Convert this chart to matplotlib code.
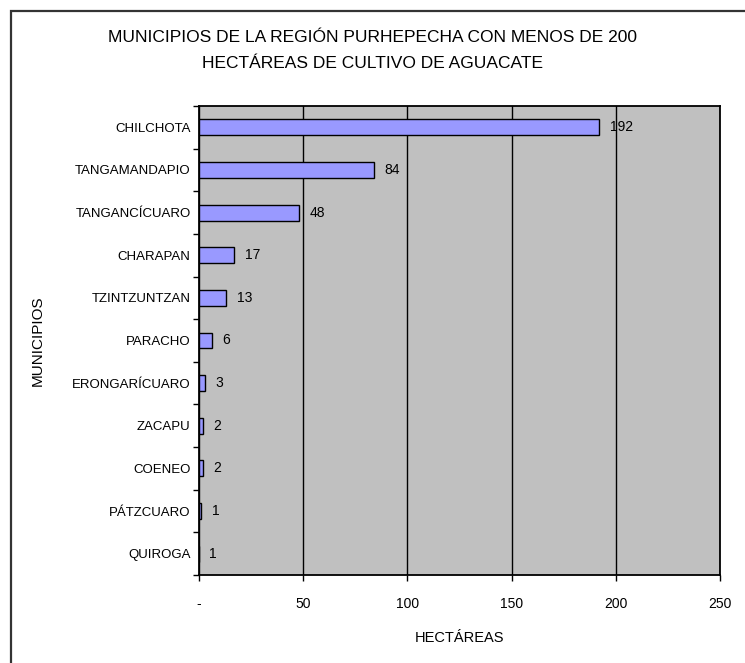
import matplotlib.pyplot as plt
from matplotlib.patches import Rectangle
import numpy as np

plt.rcParams["font.family"] = ["Liberation Sans", "DejaVu Sans"]

MUNICIPIOS = [
    "CHILCHOTA",
    "TANGAMANDAPIO",
    "TANGANCÍCUARO",
    "CHARAPAN",
    "TZINTZUNTZAN",
    "PARACHO",
    "ERONGARÍCUARO",
    "ZACAPU",
    "COENEO",
    "PÁTZCUARO",
    "QUIROGA",
]
HECTAREAS = [192, 84, 48, 17, 13, 6, 3, 2, 2, 1, 0]
ETIQUETAS = ["192", "84", "48", "17", "13", "6", "3", "2", "2", "1", "1"]
XTICKS = [0, 50, 100, 150, 200, 250]
XTICK_LABELS = ["-", "50", "100", "150", "200", "250"]

BAR_COLOR = "#9999FF"
PLOT_BG = "#C0C0C0"

fig = plt.figure(figsize=(7.45, 6.63), dpi=100, facecolor="white")

# outer chart frame (only left/top edges visible in the crop)
fig.patches.append(
    Rectangle((11 / 745, -0.1), 1.2, (663 - 11) / 663 + 0.1,
              transform=fig.transFigure, fill=False,
              edgecolor="#333333", linewidth=1.6)
)

ax = fig.add_axes([199 / 745, 88 / 663, 521 / 745, 469 / 663], facecolor=PLOT_BG)

y = np.arange(len(MUNICIPIOS))
ax.barh(y, HECTAREAS, height=0.375, color=BAR_COLOR, edgecolor="black",
        linewidth=1.0, zorder=3)
for yi, v, lab in zip(y, HECTAREAS, ETIQUETAS):
    ax.text(v + 5, yi, lab, va="center", ha="left", fontsize=10, zorder=4)

ax.set_xlim(0, 250)
ax.set_ylim(len(MUNICIPIOS) - 0.5, -0.5)
ax.set_xticks(XTICKS)
ax.set_xticklabels(XTICK_LABELS, fontsize=10)
ax.set_yticks(y)
ax.set_yticklabels(MUNICIPIOS, fontsize=9.5)
ax.set_yticks(np.arange(-0.5, len(MUNICIPIOS)), minor=True)
ax.tick_params(axis="y", which="major", length=0, pad=6)
ax.tick_params(axis="y", which="minor", length=4, width=1, direction="out")
ax.tick_params(axis="x", length=4, width=1, direction="out", pad=12)

ax.grid(axis="x", color="black", linewidth=1.0, zorder=1)
ax.set_axisbelow(True)
for s in ax.spines.values():
    s.set_color("black")
    s.set_linewidth(1.3)

ax.set_xlabel("HECTÁREAS", fontsize=10.5, labelpad=14)
ax.set_ylabel("MUNICIPIOS", fontsize=11, labelpad=20)

fig.text(0.5, 1 - 37 / 663, "MUNICIPIOS DE LA REGIÓN PURHEPECHA CON MENOS DE 200",
         ha="center", va="center", fontsize=12.5)
fig.text(0.5, 1 - 63 / 663, "HECTÁREAS DE CULTIVO DE AGUACATE",
         ha="center", va="center", fontsize=12.5)

fig.savefig("out.png", dpi=100)
